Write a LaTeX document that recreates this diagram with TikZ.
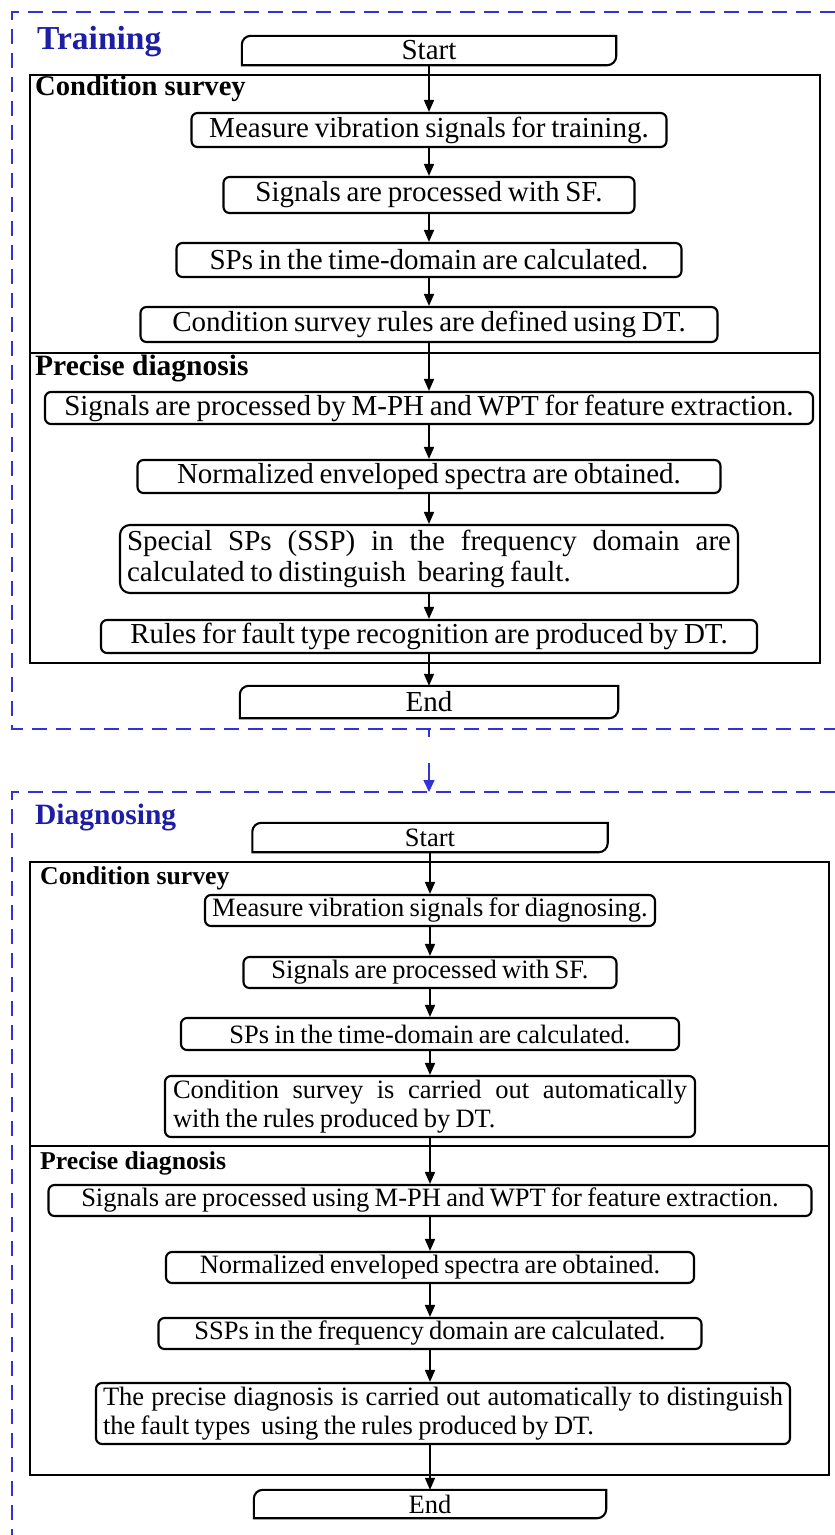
\documentclass[tikz,border=0pt]{standalone}
\usepackage{fontspec}
\setmainfont{Liberation Serif}
\usetikzlibrary{arrows.meta}
\definecolor{dashblue}{RGB}{50,50,215}
\definecolor{titleblue}{RGB}{30,30,165}
\newcommand\tfontA{\fontsize{29}{31}\selectfont\spaceskip=0.2em plus 0.3em minus 0.05em\relax}
\newcommand\tfontB{\fontsize{26.5}{29}\selectfont\spaceskip=0.2em plus 0.3em minus 0.05em\relax}
\begin{document}
\begin{tikzpicture}[x=1pt,y=1pt,
  box/.style={draw, line width=2.1pt, rounded corners=6pt, inner sep=0pt, align=center},
  bigbox/.style={box, rounded corners=10pt},
  term/.style={draw=none, inner sep=0pt},
  termline/.style={line width=2.1pt},
  frame/.style={draw, line width=2.5pt},
  arr/.style={line width=1.6pt, -{Triangle[length=12pt,width=10pt]}},
  blued/.style={dashblue, line width=1.8pt, dash pattern=on 15pt off 9pt},
  lab/.style={anchor=west, inner sep=0pt, font=\bfseries},
  title/.style={anchor=west, inner sep=0pt, font=\bfseries, text=titleblue},
  fA/.style={font=\tfontA}, fB/.style={font=\tfontB}]
\useasboundingbox (0,0) rectangle (835,-1535);

% ---------------- Training ----------------
\draw[blued] (835,-12) -- (12,-12) -- (12,-729) -- (835,-729);
\node[title, font=\bfseries\fontsize{33.5}{35}\selectfont] (ttl1) at (37,-42) {Training};

\node[term, fA, minimum width=374pt, minimum height=29pt] (s1) at (429,-50.5) {Start};
\draw[termline] ([yshift=-9pt]s1.north west) arc[start angle=180,end angle=90,radius=9pt]
  -- (s1.north east) -- ([yshift=9pt]s1.south east) arc[start angle=0,end angle=-90,radius=9pt]
  -- (s1.south west) -- cycle;

\draw[frame] (30,-75) rectangle (820,-663);
\draw[frame] (30,-353) -- (820,-353);
\node[lab, font=\bfseries\fontsize{28.6}{30}\selectfont] (cs1) at (35,-89) {Condition survey};
\node[lab, font=\bfseries\fontsize{29.5}{31}\selectfont] (pd1) at (35,-369) {Precise diagnosis};

\node[box, fA, minimum width=475pt, minimum height=34pt] (a1) at (429,-130) {Measure vibration signals for training.};
\node[box, fA, minimum width=411pt, minimum height=36pt] (a2) at (429,-195) {Signals are processed with SF.};
\node[box, fA, minimum width=505pt, minimum height=34pt] (a3) at (429,-260) {SPs in the time-domain are calculated.};
\node[box, fA, minimum width=577pt, minimum height=35pt] (a4) at (429,-324.5) {Condition survey rules are defined using DT.};
\node[box, fA, minimum width=768pt, minimum height=32pt] (a5) at (429,-408) {Signals are processed by M-PH and WPT for feature extraction.};
\node[box, fA, minimum width=583pt, minimum height=33pt] (a6) at (429,-476.5) {Normalized enveloped spectra are obtained.};
\node[bigbox, fA, minimum width=618pt, minimum height=68pt, text width=604pt, align=justify] (a7) at (429,-559)
  {Special SPs (SSP) in the frequency domain are\linebreak calculated to distinguish \ bearing fault.};
\node[box, fA, minimum width=656pt, minimum height=33pt] (a8) at (429,-636.5) {Rules for fault type recognition are produced by DT.};

\node[term, fA, minimum width=378pt, minimum height=32pt] (e1) at (429,-702) {End};
\draw[termline] ([yshift=-9pt]e1.north west) arc[start angle=180,end angle=90,radius=9pt]
  -- (e1.north east) -- ([yshift=9pt]e1.south east) arc[start angle=0,end angle=-90,radius=9pt]
  -- (e1.south west) -- cycle;

\draw[arr] (s1) -- (a1);
\draw[arr] (a1) -- (a2);
\draw[arr] (a2) -- (a3);
\draw[arr] (a3) -- (a4);
\draw[arr] (a4) -- (a5);
\draw[arr] (a5) -- (a6);
\draw[arr] (a6) -- (a7);
\draw[arr] (a7) -- (a8);
\draw[arr] (a8) -- (e1);

% ---------------- link ----------------
\coordinate (tb) at (429,-729);
\coordinate (dt) at (429,-792);
\draw[dashblue, line width=1.6pt, dash pattern=on 8pt off 26pt on 40pt, -{Triangle[length=12pt,width=11pt]}] (tb) -- (dt);

% ---------------- Diagnosing ----------------
\draw[blued] (835,-792) -- (12,-792) -- (12,-1535);
\node[title, font=\bfseries\fontsize{29.5}{31}\selectfont] (ttl2) at (35,-818) {Diagnosing};

\node[term, fB, minimum width=355pt, minimum height=29pt] (s2) at (430,-837.5) {Start};
\draw[termline] ([yshift=-9pt]s2.north west) arc[start angle=180,end angle=90,radius=9pt]
  -- (s2.north east) -- ([yshift=9pt]s2.south east) arc[start angle=0,end angle=-90,radius=9pt]
  -- (s2.south west) -- cycle;

\draw[frame] (30,-862) rectangle (829,-1475);
\draw[frame] (30,-1146) -- (829,-1146);
\node[lab, font=\bfseries\fontsize{25.7}{28}\selectfont] (cs2) at (40,-878) {Condition survey};
\node[lab, font=\bfseries\fontsize{25.7}{28}\selectfont] (pd2) at (40,-1163) {Precise diagnosis};

\node[box, fB, minimum width=450pt, minimum height=31pt] (b1) at (430,-910.5) {Measure vibration signals for diagnosing.};
\node[box, fB, minimum width=373pt, minimum height=31pt] (b2) at (430,-972.5) {Signals are processed with SF.};
\node[box, fB, minimum width=498pt, minimum height=32pt] (b3) at (430,-1034) {SPs in the time-domain are calculated.};
\node[box, fB, minimum width=530pt, minimum height=61pt, text width=514pt, align=justify] (b4) at (430,-1106.5)
  {Condition survey is carried out automatically\linebreak with the rules produced by DT.};
\node[box, fB, minimum width=763pt, minimum height=31pt] (b5) at (430,-1200.5) {Signals are processed using M-PH and WPT for feature extraction.};
\node[box, fB, minimum width=528pt, minimum height=31pt] (b6) at (430,-1267.5) {Normalized enveloped spectra are obtained.};
\node[box, fB, minimum width=543pt, minimum height=31pt] (b7) at (430,-1333.5) {SSPs in the frequency domain are calculated.};
\node[box, fB, minimum width=694pt, minimum height=61pt, text width=680pt, align=justify] (b8) at (443,-1413.5)
  {The precise diagnosis is carried out automatically to distinguish\linebreak the fault types \ using the rules produced by DT.};

\node[term, fB, minimum width=352pt, minimum height=28pt] (e2) at (430,-1504) {End};
\draw[termline] ([yshift=-9pt]e2.north west) arc[start angle=180,end angle=90,radius=9pt]
  -- (e2.north east) -- ([yshift=9pt]e2.south east) arc[start angle=0,end angle=-90,radius=9pt]
  -- (e2.south west) -- cycle;

\draw[arr] (s2) -- (b1);
\draw[arr] (b1) -- (b2);
\draw[arr] (b2) -- (b3);
\draw[arr] (b3) -- (b4);
\draw[arr] (b4) -- (b5);
\draw[arr] (b5) -- (b6);
\draw[arr] (b6) -- (b7);
\draw[arr] (b7.south) -- (b7.south |- b8.north);
\draw[arr] (b8.south -| e2.north) -- (e2.north);
\end{tikzpicture}
\end{document}
